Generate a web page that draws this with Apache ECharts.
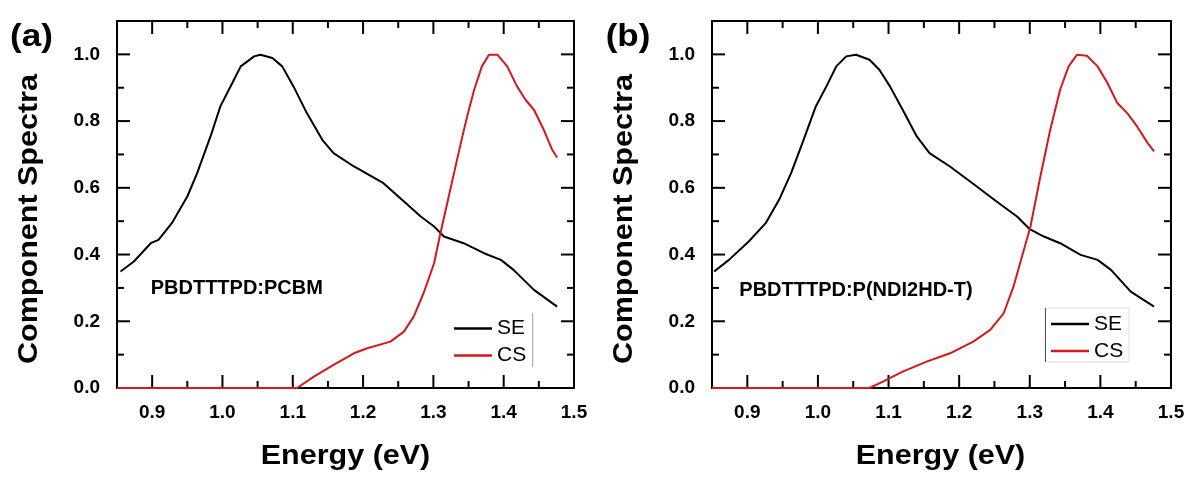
<!DOCTYPE html>
<html>
<head>
<meta charset="utf-8">
<script src="https://cdn.jsdelivr.net/npm/echarts@6/dist/echarts.min.js"></script>
<style>html,body{margin:0;padding:0;background:#fff}#c{width:1190px;height:477px}</style>
</head>
<body>
<div id="c"></div>
<script>
// ---- Data ----
const panelLabels = ['(a)', '(b)'];
const sampleNames = ['PBDTTTPD:PCBM', 'PBDTTTPD:P(NDI2HD-T)'];
const seriesNames = ['SE', 'CS'];
const axisTitleX = 'Energy (eV)';
const axisTitleY = 'Component Spectra';

// axis ranges and tick values
const xRange = [0.85, 1.5];
const xMajorSplits = 7;   // nice step 0.1 for the labels
const xMajorTicks = [0.9, 1.0, 1.1, 1.2, 1.3, 1.4];
const xMinorTicks = [0.95, 1.05, 1.15, 1.25, 1.35, 1.45];
const yRange = [0, 1.1];
const yMajorStep = 0.2;
const yMajorTicks = [0.2, 0.4, 0.6, 0.8, 1.0];
const yMinorTicks = [0.1, 0.3, 0.5, 0.7, 0.9];
const xTickLabels = ['0.9', '1.0', '1.1', '1.2', '1.3', '1.4', '1.5'];
const yTickLabels = ['0.0', '0.2', '0.4', '0.6', '0.8', '1.0'];

// Panel (a) SE
const energySE_a = [0.855,0.874,0.898,0.909,0.928,0.950,0.964,0.983,0.997,1.014,1.026,1.045,1.054,1.071,1.085,1.101,1.120,1.142,1.158,1.187,1.229,1.253,1.282,1.301,1.315,1.343,1.372,1.396,1.414,1.443,1.476];
const valueSE_a  = [0.349,0.379,0.434,0.444,0.494,0.574,0.644,0.754,0.844,0.914,0.964,0.994,0.999,0.989,0.964,0.904,0.824,0.744,0.704,0.664,0.614,0.569,0.514,0.484,0.454,0.434,0.404,0.384,0.354,0.294,0.244];
// Panel (a) CS
const energyCS_a = [0.85,1.106,1.130,1.158,1.187,1.206,1.239,1.258,1.272,1.286,1.301,1.310,1.324,1.339,1.348,1.358,1.369,1.379,1.391,1.405,1.419,1.431,1.443,1.457,1.469,1.476];
const valueCS_a  = [0,0,0.034,0.069,0.104,0.119,0.139,0.169,0.214,0.284,0.374,0.464,0.594,0.734,0.814,0.894,0.964,0.999,0.999,0.964,0.904,0.864,0.834,0.774,0.714,0.691];
// Panel (b) SE
const energySE_b = [0.853,0.874,0.902,0.926,0.945,0.962,0.978,0.997,1.012,1.026,1.040,1.054,1.073,1.087,1.102,1.120,1.140,1.158,1.187,1.225,1.253,1.282,1.300,1.320,1.343,1.372,1.396,1.415,1.443,1.476];
const valueSE_b  = [0.349,0.384,0.439,0.494,0.564,0.644,0.734,0.844,0.904,0.964,0.994,0.999,0.984,0.954,0.904,0.834,0.754,0.704,0.664,0.604,0.559,0.514,0.476,0.454,0.434,0.399,0.384,0.354,0.289,0.244];
// Panel (b) CS
const energyCS_b = [0.85,1.073,1.092,1.120,1.154,1.187,1.220,1.244,1.263,1.277,1.289,1.301,1.315,1.329,1.343,1.355,1.367,1.381,1.396,1.410,1.424,1.438,1.452,1.467,1.476];
const valueCS_b  = [0,0,0.019,0.049,0.079,0.104,0.139,0.174,0.224,0.304,0.394,0.484,0.634,0.774,0.894,0.964,0.999,0.996,0.964,0.914,0.854,0.824,0.784,0.734,0.709];

// ---- Build the chart ----
const zip = (xs, ys) => xs.map((x, i) => [x, ys[i]]);
const FONT = '"Liberation Sans", Arial, sans-serif';
const grids = [
  {left: 117, top: 21, width: 457, height: 367},
  {left: 712, top: 21, width: 459, height: 367}
];
const near = (a, b) => Math.abs(a - b) < 1e-6;
const labelFor = (v, labels) => {
  const s = Number(v).toFixed(1);
  return labels.indexOf(s) >= 0 && near(Number(s), v) ? s : '';
};

const xAxes = [], yAxes = [];
grids.forEach((g, gi) => {
  const base = {type: 'value', gridIndex: gi, min: xRange[0], max: xRange[1], splitLine: {show: false}, scale: true,
    splitNumber: xMajorSplits, axisTick: {show: false},
    axisLine: {show: true, onZero: false, lineStyle: {color: '#000', width: 2}}};
  xAxes.push(Object.assign({}, base, {
    position: 'bottom',
    axisLabel: {show: true, showMinLabel: true, showMaxLabel: true,
      formatter: v => labelFor(v, xTickLabels),
      fontFamily: FONT, fontSize: 19, fontWeight: 'bold', color: '#000', margin: 15}
  }));
  xAxes.push(Object.assign({}, base, {position: 'top', axisLabel: {show: false}}));
  const ybase = {type: 'value', gridIndex: gi, min: yRange[0], max: yRange[1], interval: yMajorStep,
    splitLine: {show: false}, axisTick: {show: false},
    axisLine: {show: true, onZero: false, lineStyle: {color: '#000', width: 2}}};
  yAxes.push(Object.assign({}, ybase, {
    position: 'left',
    axisLabel: {show: true, showMinLabel: true, showMaxLabel: true,
      formatter: v => labelFor(v, yTickLabels),
      fontFamily: FONT, fontSize: 19, fontWeight: 'bold', color: '#000', margin: 17}
  }));
  yAxes.push(Object.assign({}, ybase, {position: 'right', axisLabel: {show: false}}));
});

const BLACK = '#000000', RED = '#d4181c';
const panelData = [
  {se: zip(energySE_a, valueSE_a), cs: zip(energyCS_a, valueCS_a)},
  {se: zip(energySE_b, valueSE_b), cs: zip(energyCS_b, valueCS_b)}
];

const series = [];
panelData.forEach((p, gi) => {
  series.push({name: seriesNames[0], type: 'line', xAxisIndex: gi * 2, yAxisIndex: gi * 2,
    data: p.se, showSymbol: false, symbol: 'none', clip: false, color: BLACK,
    lineStyle: {color: BLACK, width: 2}, z: 3});
  series.push({name: seriesNames[1], type: 'line', xAxisIndex: gi * 2, yAxisIndex: gi * 2,
    data: p.cs, showSymbol: false, symbol: 'none', clip: false, color: RED,
    lineStyle: {color: RED, width: 2}, z: 4});
});

const legendCommon = {
  orient: 'vertical', padding: 0, itemGap: 6, itemWidth: 38, itemHeight: 2.5,
  icon: 'rect', data: seriesNames, selectedMode: false,
  textStyle: {fontFamily: FONT, fontSize: 21, color: '#000', lineHeight: 21}
};

const TS = 1.13;
const bigText = (txt, x, y, size, rot) => ({type: 'text', x: x, y: y, rotation: rot || 0, scaleX: TS,
  style: {text: txt, font: 'bold ' + size + 'px ' + FONT, fill: '#000', align: 'center', verticalAlign: 'middle'}});
const graphic = [
  bigText(panelLabels[0], 31.5, 37.5, 31),
  bigText(panelLabels[1], 628, 37.5, 31),
  bigText(axisTitleY, 30, 219, 27, Math.PI / 2),
  bigText(axisTitleY, 625, 219, 27, Math.PI / 2),
  bigText(axisTitleX, 345.5, 457, 27),
  bigText(axisTitleX, 940.5, 457, 27),
  {type: 'text', x: 150.7, y: 288.3, style: {text: sampleNames[0], font: 'bold 20px ' + FONT, fill: '#000', align: 'left', verticalAlign: 'middle'}},
  {type: 'text', x: 739.3, y: 290, style: {text: sampleNames[1], font: 'bold 20px ' + FONT, fill: '#000', align: 'left', verticalAlign: 'middle'}},
  {type: 'line', shape: {x1: 532.7, y1: 313, x2: 532.7, y2: 367}, style: {stroke: '#9a9a9a', lineWidth: 1}},
  {type: 'rect', shape: {x: 1045, y: 308, width: 84, height: 54}, style: {fill: 'none', stroke: '#dddddd', lineWidth: 1}},
  {type: 'line', shape: {x1: 1045.5, y1: 308, x2: 1045.5, y2: 362}, style: {stroke: '#555555', lineWidth: 1}}
];

const chart = echarts.init(document.getElementById('c'), null, {renderer: 'canvas'});
chart.setOption({
  animation: false,
  backgroundColor: '#ffffff',
  grid: grids.map(g => Object.assign({containLabel: false}, g)),
  xAxis: xAxes,
  yAxis: yAxes,
  legend: [
    Object.assign({}, legendCommon, {left: 454, top: 318}),
    Object.assign({}, legendCommon, {left: 1051, top: 313.5})
  ],
  series: series,
  graphic: graphic
});

// inward ticks on all four sides, positioned through each panel's axis scales
const tickGraphics = [];
const tickStyle = {stroke: '#000', lineWidth: 2};
panelData.forEach((p, gi) => {
  const finder = {seriesIndex: gi * 2};
  const toPx = (x, y) => chart.convertToPixel(finder, [x, y]);
  const addX = (vals, len) => vals.forEach(v => {
    const b = toPx(v, yRange[0]), t = toPx(v, yRange[1]);
    tickGraphics.push({type: 'line', z: 1, shape: {x1: b[0], y1: b[1], x2: b[0], y2: b[1] - len}, style: tickStyle});
    tickGraphics.push({type: 'line', z: 1, shape: {x1: t[0], y1: t[1], x2: t[0], y2: t[1] + len}, style: tickStyle});
  });
  const addY = (vals, len) => vals.forEach(v => {
    const l = toPx(xRange[0], v), r = toPx(xRange[1], v);
    tickGraphics.push({type: 'line', z: 1, shape: {x1: l[0], y1: l[1], x2: l[0] + len, y2: l[1]}, style: tickStyle});
    tickGraphics.push({type: 'line', z: 1, shape: {x1: r[0], y1: r[1], x2: r[0] - len, y2: r[1]}, style: tickStyle});
  });
  addX(xMajorTicks, 13);
  addX(xMinorTicks, 7);
  addY(yMajorTicks, 13);
  addY(yMinorTicks, 7);
});
chart.setOption({graphic: graphic.concat(tickGraphics)});
</script>
</body>
</html>
